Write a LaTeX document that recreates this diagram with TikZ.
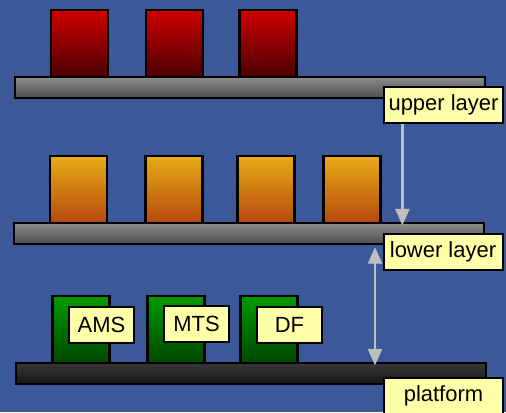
\documentclass[tikz,border=0pt]{standalone}
\usepackage{fontspec}
\setmainfont{Liberation Sans}
\usetikzlibrary{positioning,arrows.meta}

\definecolor{bgblue}{RGB}{60,88,152}
\definecolor{notefill}{RGB}{255,255,170}
\definecolor{arrowgray}{RGB}{190,190,190}

\tikzset{
  module/.style={draw=black, line width=0.45mm, inner sep=0pt,
                 minimum width=11.4mm, minimum height=13.4mm},
  redmod/.style={module, top color={rgb,255:red,205;green,0;blue,0}, bottom color={rgb,255:red,75;green,0;blue,0}},
  orangemod/.style={module, top color={rgb,255:red,232;green,172;blue,22}, bottom color={rgb,255:red,182;green,72;blue,15}},
  greenmod/.style={module, top color={rgb,255:red,0;green,155;blue,0}, bottom color={rgb,255:red,0;green,70;blue,0}},
  shelf/.style={draw=black, line width=0.45mm, inner sep=0pt,
                minimum width=94mm, minimum height=4.2mm},
  grayshelf/.style={shelf, top color=black!45, bottom color=black!70},
  darkshelf/.style={shelf, top color=black!78, bottom color=black!92},
  note/.style={draw=black, line width=0.4mm, fill=notefill, inner sep=0pt,
               minimum height=7.2mm, font=\fontsize{12.5}{14}\selectfont},
  tag/.style={note, minimum width=23.8mm},
  chip/.style={note, minimum width=13mm},
  gap/.style={draw=arrowgray, line width=0.45mm,
              arrows={-Triangle[width=2.8mm,length=3.3mm]}}
}

\begin{document}
\begin{tikzpicture}[x=0.2mm, y=-0.2mm]
\useasboundingbox (0,0) rectangle (506,412);
\clip (0,0) rectangle (506,412);
\fill[bgblue] (0,0) rectangle (506,412);

% upper layer
\node[redmod]     (red1)    at (79.5,43.5)   {};
\node[redmod]     (red2)    at (174.5,43.5)  {};
\node[redmod]     (red3)    at (268,43.5)    {};
\node[grayshelf]  (upper)   at (250,87.5)    {};
\node[tag]        (upperlbl) at (443.5,105)  {upper layer};

% lower layer
\node[orangemod]  (org1)    at (78.5,189.5)  {};
\node[orangemod]  (org2)    at (174,189.5)   {};
\node[orangemod]  (org3)    at (266,189.5)   {};
\node[orangemod]  (org4)    at (352,189.5)   {};
\node[grayshelf]  (lower)   at (249,233.5)   {};
\node[tag]        (lowerlbl) at (443,251.5)  {lower layer};

% platform
\node[greenmod]   (grn1)    at (81,329.5)    {};
\node[greenmod]   (grn2)    at (176,329.5)   {};
\node[greenmod]   (grn3)    at (269,329.5)   {};
\node[chip]       (ams)     at (101.5,325)   {AMS};
\node[chip]       (mts)     at (196.5,324)   {MTS};
\node[chip]       (df)      at (289.5,325)   {DF};
\node[darkshelf]  (platform) at (251,373.5)  {};
\node[tag]        (platlbl) at (443.5,396)   {platform};

% spacing arrows
\draw[gap] ([xshift=-23.4]upperlbl.south) -- ([xshift=-23.4,yshift=-2]upperlbl.south |- lower.north);
\coordinate (gaptop) at ([shift={(126,2)}]lower.south);
\coordinate (gapbot) at ([yshift=-2]gaptop |- platform.north);
\draw[gap, arrows={Triangle[width=2.8mm,length=3.3mm]-Triangle[width=2.8mm,length=3.3mm]}] (gaptop) -- (gapbot);
\end{tikzpicture}
\end{document}
